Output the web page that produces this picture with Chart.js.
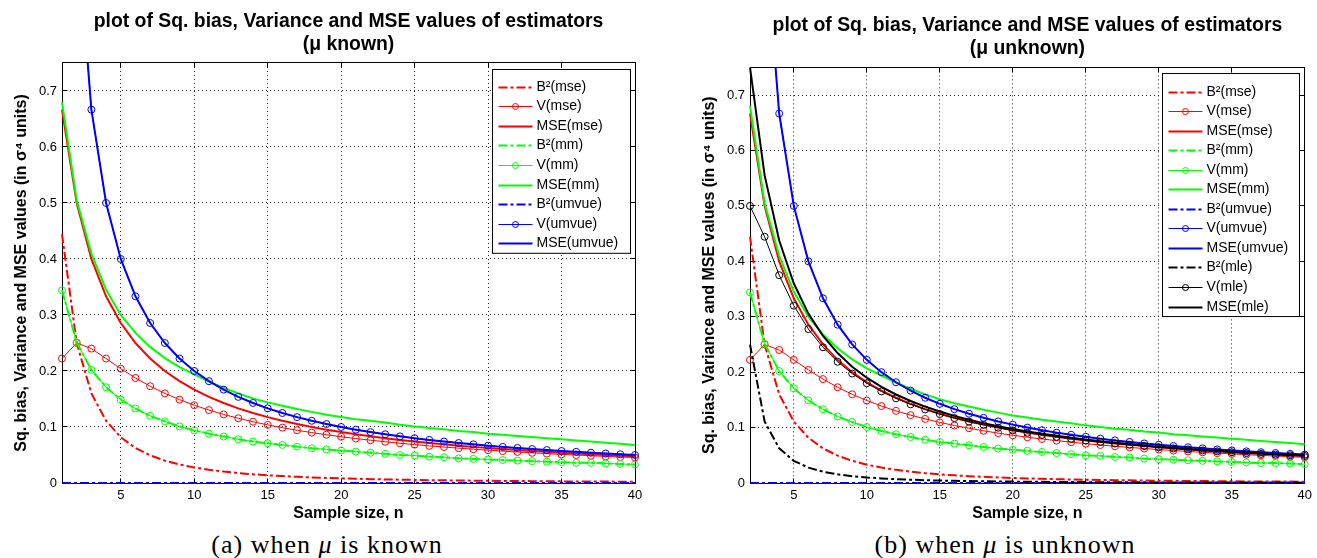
<!DOCTYPE html>
<html><head><meta charset="utf-8">
<script src="https://cdn.jsdelivr.net/npm/chart.js@4.4.0/dist/chart.umd.min.js"></script>
<style>
html,body{margin:0;padding:0;background:#fff;}
body{width:1317px;height:558px;position:relative;overflow:hidden;}
canvas{position:absolute;top:0;}
#c1{left:0;} #c2{left:658px;}
.cap{position:absolute;font-family:'Liberation Serif',serif;font-size:26px;letter-spacing:1px;color:#000;white-space:nowrap;transform:translateX(-50%);top:530px;line-height:30px;}
</style></head><body>
<canvas id="c1" width="658" height="530"></canvas>
<canvas id="c2" width="659" height="530"></canvas>
<div class="cap" style="left:327px">(a) when <i>μ</i> is known</div>
<div class="cap" style="left:1005px">(b) when <i>μ</i> is unknown</div>
<script>
// ---------- data ----------
const nKnown = [1,2,3,4,5,6,7,8,9,10,11,12,13,14,15,16,17,18,19,20,21,22,23,24,25,26,27,28,29,30,31,32,33,34,35,36,37,38,39,40];
const nUnknown = [2,3,4,5,6,7,8,9,10,11,12,13,14,15,16,17,18,19,20,21,22,23,24,25,26,27,28,29,30,31,32,33,34,35,36,37,38,39,40];
const xTicks = [5,10,15,20,25,30,35,40];
const yTicks = [0,0.1,0.2,0.3,0.4,0.5,0.6,0.7];
const yTickLabels = ['0','0.1','0.2','0.3','0.4','0.5','0.6','0.7'];

// (a) mu known
const b2MseK = [0.4444,0.25,0.16,0.1111,0.0816,0.0625,0.0494,0.04,0.0331,0.0278,0.0237,0.0204,0.0178,0.0156,0.0138,0.0123,0.0111,0.01,0.0091,0.0083,0.0076,0.0069,0.0064,0.0059,0.0055,0.0051,0.0048,0.0044,0.0042,0.0039,0.0037,0.0035,0.0033,0.0031,0.0029,0.0028,0.0026,0.0025,0.0024,0.0023];
const vMseK = [0.2222,0.25,0.24,0.2222,0.2041,0.1875,0.1728,0.16,0.1488,0.1389,0.1302,0.1224,0.1156,0.1094,0.1038,0.0988,0.0942,0.09,0.0862,0.0826,0.0794,0.0764,0.0736,0.071,0.0686,0.0663,0.0642,0.0622,0.0604,0.0586,0.0569,0.0554,0.0539,0.0525,0.0511,0.0499,0.0487,0.0475,0.0464,0.0454];
const mseMseK = [0.6667,0.5,0.4,0.3333,0.2857,0.25,0.2222,0.2,0.1818,0.1667,0.1538,0.1429,0.1333,0.125,0.1176,0.1111,0.1053,0.1,0.0952,0.0909,0.087,0.0833,0.08,0.0769,0.0741,0.0714,0.069,0.0667,0.0645,0.0625,0.0606,0.0588,0.0571,0.0556,0.0541,0.0526,0.0513,0.05,0.0488,0.0476];
const b2MmK = [0.344,0.251,0.202,0.171,0.149,0.133,0.12,0.11,0.101,0.094,0.088,0.083,0.078,0.074,0.071,0.068,0.065,0.062,0.06,0.058,0.056,0.054,0.052,0.05,0.049,0.047,0.046,0.044,0.043,0.042,0.041,0.04,0.039,0.038,0.037,0.036,0.036,0.035,0.034,0.033];
const vMmK = [0.344,0.251,0.202,0.171,0.149,0.133,0.12,0.11,0.101,0.094,0.088,0.083,0.078,0.074,0.071,0.068,0.065,0.062,0.06,0.058,0.056,0.054,0.052,0.05,0.049,0.047,0.046,0.044,0.043,0.042,0.041,0.04,0.039,0.038,0.037,0.036,0.036,0.035,0.034,0.033];
const mseMmK = [0.68,0.505,0.41,0.345,0.3,0.268,0.243,0.223,0.207,0.194,0.181,0.17,0.16,0.151,0.144,0.138,0.132,0.127,0.122,0.118,0.114,0.111,0.108,0.104,0.101,0.098,0.096,0.093,0.091,0.088,0.086,0.084,0.082,0.08,0.078,0.076,0.074,0.072,0.07,0.068];
const b2UmvueK = [0,0,0,0,0,0,0,0,0,0,0,0,0,0,0,0,0,0,0,0,0,0,0,0,0,0,0,0,0,0,0,0,0,0,0,0,0,0,0,0];
const vUmvueK = [2,1,0.6667,0.5,0.4,0.3333,0.2857,0.25,0.2222,0.2,0.1818,0.1667,0.1538,0.1429,0.1333,0.125,0.1176,0.1111,0.1053,0.1,0.0952,0.0909,0.087,0.0833,0.08,0.0769,0.0741,0.0714,0.069,0.0667,0.0645,0.0625,0.0606,0.0588,0.0571,0.0556,0.0541,0.0526,0.0513,0.05];
const mseUmvueK = [2,1,0.6667,0.5,0.4,0.3333,0.2857,0.25,0.2222,0.2,0.1818,0.1667,0.1538,0.1429,0.1333,0.125,0.1176,0.1111,0.1053,0.1,0.0952,0.0909,0.087,0.0833,0.08,0.0769,0.0741,0.0714,0.069,0.0667,0.0645,0.0625,0.0606,0.0588,0.0571,0.0556,0.0541,0.0526,0.0513,0.05];

// (b) mu unknown
const b2MseU = [0.4444,0.25,0.16,0.1111,0.0816,0.0625,0.0494,0.04,0.0331,0.0278,0.0237,0.0204,0.0178,0.0156,0.0138,0.0123,0.0111,0.01,0.0091,0.0083,0.0076,0.0069,0.0064,0.0059,0.0055,0.0051,0.0048,0.0044,0.0042,0.0039,0.0037,0.0035,0.0033,0.0031,0.0029,0.0028,0.0026,0.0025,0.0024];
const vMseU = [0.2222,0.25,0.24,0.2222,0.2041,0.1875,0.1728,0.16,0.1488,0.1389,0.1302,0.1224,0.1156,0.1094,0.1038,0.0988,0.0942,0.09,0.0862,0.0826,0.0794,0.0764,0.0736,0.071,0.0686,0.0663,0.0642,0.0622,0.0604,0.0586,0.0569,0.0554,0.0539,0.0525,0.0511,0.0499,0.0487,0.0475,0.0464];
const mseMseU = [0.6667,0.5,0.4,0.3333,0.2857,0.25,0.2222,0.2,0.1818,0.1667,0.1538,0.1429,0.1333,0.125,0.1176,0.1111,0.1053,0.1,0.0952,0.0909,0.087,0.0833,0.08,0.0769,0.0741,0.0714,0.069,0.0667,0.0645,0.0625,0.0606,0.0588,0.0571,0.0556,0.0541,0.0526,0.0513,0.05,0.0488];
const b2MmU = [0.344,0.251,0.202,0.171,0.149,0.133,0.12,0.11,0.101,0.094,0.088,0.083,0.078,0.074,0.071,0.068,0.065,0.062,0.06,0.058,0.056,0.054,0.052,0.05,0.049,0.047,0.046,0.044,0.043,0.042,0.041,0.04,0.039,0.038,0.037,0.036,0.036,0.035,0.034];
const vMmU = [0.344,0.251,0.202,0.171,0.149,0.133,0.12,0.11,0.101,0.094,0.088,0.083,0.078,0.074,0.071,0.068,0.065,0.062,0.06,0.058,0.056,0.054,0.052,0.05,0.049,0.047,0.046,0.044,0.043,0.042,0.041,0.04,0.039,0.038,0.037,0.036,0.036,0.035,0.034];
const mseMmU = [0.68,0.505,0.41,0.345,0.3,0.268,0.243,0.223,0.207,0.194,0.181,0.17,0.16,0.151,0.144,0.138,0.132,0.127,0.122,0.118,0.114,0.111,0.108,0.104,0.101,0.098,0.096,0.093,0.091,0.088,0.086,0.084,0.082,0.08,0.078,0.076,0.074,0.072,0.07];
const b2UmvueU = [0,0,0,0,0,0,0,0,0,0,0,0,0,0,0,0,0,0,0,0,0,0,0,0,0,0,0,0,0,0,0,0,0,0,0,0,0,0,0];
const vUmvueU = [2,1,0.6667,0.5,0.4,0.3333,0.2857,0.25,0.2222,0.2,0.1818,0.1667,0.1538,0.1429,0.1333,0.125,0.1176,0.1111,0.1053,0.1,0.0952,0.0909,0.087,0.0833,0.08,0.0769,0.0741,0.0714,0.069,0.0667,0.0645,0.0625,0.0606,0.0588,0.0571,0.0556,0.0541,0.0526,0.0513];
const mseUmvueU = [2,1,0.6667,0.5,0.4,0.3333,0.2857,0.25,0.2222,0.2,0.1818,0.1667,0.1538,0.1429,0.1333,0.125,0.1176,0.1111,0.1053,0.1,0.0952,0.0909,0.087,0.0833,0.08,0.0769,0.0741,0.0714,0.069,0.0667,0.0645,0.0625,0.0606,0.0588,0.0571,0.0556,0.0541,0.0526,0.0513];
const b2MleU = [0.25,0.1111,0.0625,0.04,0.0278,0.0204,0.0156,0.0123,0.01,0.0083,0.0069,0.0059,0.0051,0.0044,0.0039,0.0035,0.0031,0.0028,0.0025,0.0023,0.0021,0.0019,0.0017,0.0016,0.0015,0.0014,0.0013,0.0012,0.0011,0.001,0.001,0.0009,0.0009,0.0008,0.0008,0.0007,0.0007,0.0007,0.0006];
const vMleU = [0.5,0.4444,0.375,0.32,0.2778,0.2449,0.2188,0.1975,0.18,0.1653,0.1528,0.142,0.1327,0.1244,0.1172,0.1107,0.1049,0.0997,0.095,0.0907,0.0868,0.0832,0.0799,0.0768,0.074,0.0713,0.0689,0.0666,0.0644,0.0624,0.0605,0.0588,0.0571,0.0555,0.054,0.0526,0.0512,0.05,0.0488];
const mseMleU = [0.75,0.5556,0.4375,0.36,0.3056,0.2653,0.2344,0.2099,0.19,0.1736,0.1597,0.1479,0.1378,0.1289,0.1211,0.1142,0.108,0.1025,0.0975,0.093,0.0888,0.0851,0.0816,0.0784,0.0754,0.0727,0.0702,0.0678,0.0656,0.0635,0.0615,0.0597,0.058,0.0563,0.0548,0.0533,0.052,0.0506,0.0494];

// ---------- styling / build ----------
const FONT = '"Liberation Sans", Arial, Helvetica, sans-serif';
const RED = '#ff0000', GREEN = '#00ff00', BLUE = '#0000ff', BLACK = '#000000';
Chart.defaults.font.family = FONT;
Chart.defaults.color = '#000';

function ds(label, xs, ys, color, kind) {
  const d = {label, data: xs.map((x, i) => ({x, y: ys[i]})), borderColor: color,
    backgroundColor: 'rgba(0,0,0,0)', tension: 0, fill: false,
    clip: {left: 6, right: 6, top: 0, bottom: 6}};
  if (kind === 'b2') Object.assign(d, {borderWidth: 2, borderDash: [9, 3, 3, 3], pointRadius: 0});
  if (kind === 'v') Object.assign(d, {borderWidth: 1, pointRadius: 3.5, pointBorderWidth: 1,
    pointBorderColor: color, pointBackgroundColor: 'rgba(0,0,0,0)', pointStyle: 'circle'});
  if (kind === 'mse') Object.assign(d, {borderWidth: 2, pointRadius: 0});
  return d;
}

const frame = {
  id: 'frame',
  beforeDatasetsDraw(chart) {
    const {ctx, chartArea: a, scales} = chart;
    const al = v => Math.round(v - 0.5) + 0.5;
    const L = al(a.left), R = al(a.right), T = al(a.top), B = al(a.bottom);
    ctx.save();
    ctx.strokeStyle = '#000'; ctx.lineWidth = 1; ctx.setLineDash([]);
    ctx.strokeRect(L, T, R - L, B - T);
    ctx.beginPath();
    scales.x.ticks.forEach(t => {
      const x = al(scales.x.getPixelForValue(t.value));
      ctx.moveTo(x, B); ctx.lineTo(x, B - 5);
      ctx.moveTo(x, T); ctx.lineTo(x, T + 5);
    });
    scales.y.ticks.forEach(t => {
      const y = al(scales.y.getPixelForValue(t.value));
      ctx.moveTo(L, y); ctx.lineTo(L + 5, y);
      ctx.moveTo(R, y); ctx.lineTo(R - 5, y);
    });
    ctx.stroke();
    ctx.restore();
  }
};

const legendBox = {
  id: 'legendBox',
  afterDraw(chart, args, o) {
    const {ctx, chartArea: a} = chart;
    const dss = chart.data.datasets;
    const w = o.width;
    const h = o.firstOff + (dss.length - 1) * o.rowH + o.lastOff;
    const x0 = Math.round(a.right - o.right - w) + 0.5;
    const y0 = Math.round(a.top + o.top) + 0.5;
    ctx.save();
    ctx.fillStyle = '#fff'; ctx.fillRect(x0, y0, w, h);
    ctx.strokeStyle = '#000'; ctx.lineWidth = 1; ctx.setLineDash([]);
    ctx.strokeRect(x0, y0, w, h);
    ctx.font = '14px ' + FONT; ctx.textBaseline = 'middle'; ctx.textAlign = 'left';
    dss.forEach((d, i) => {
      const y = Math.round(y0 + o.firstOff + i * o.rowH) + 0.5;
      ctx.beginPath();
      ctx.setLineDash(d.borderDash || []);
      ctx.lineWidth = d.borderWidth; ctx.strokeStyle = d.borderColor;
      ctx.moveTo(x0 + 6, y); ctx.lineTo(x0 + 40, y); ctx.stroke();
      ctx.setLineDash([]);
      if (d.pointRadius > 0) {
        ctx.beginPath(); ctx.lineWidth = 1;
        ctx.arc(x0 + 23, y, 3, 0, Math.PI * 2); ctx.stroke();
      }
      ctx.fillStyle = '#000';
      ctx.fillText(d.label, x0 + 44, y);
    });
    ctx.restore();
  }
};

function makeChart(id, xmin, datasets, titleLines, padLeft, padRight, titleTop, legendOpts) {
  const N = datasets.length;
  datasets.forEach((d, i) => { d.order = N - i; });
  return new Chart(document.getElementById(id), {
    type: 'line',
    data: {datasets},
    options: {
      responsive: false, animation: false, devicePixelRatio: 1,
      layout: {padding: {left: padLeft, right: padRight, top: 0, bottom: 0}},
      plugins: {
        legend: {display: false}, tooltip: {enabled: false},
        title: {display: true, fullSize: false, text: titleLines, color: '#000',
          font: {family: FONT, size: 19.4, weight: 'bold', lineHeight: 1.2},
          padding: {top: titleTop, bottom: 6.8}},
        legendBox: legendOpts
      },
      scales: {
        x: {type: 'linear', min: xmin, max: 40,
          afterBuildTicks: s => { s.ticks = xTicks.map(v => ({value: v})); },
          afterFit: s => { s.height = 47; },
          ticks: {font: {family: FONT, size: 13}, color: '#000', padding: 5, maxRotation: 0, autoSkip: false,
            callback: v => String(v)},
          grid: {color: '#222', lineWidth: 1, drawTicks: false},
          border: {display: false, dash: [1, 3]},
          title: {display: true, text: 'Sample size, n', color: '#000',
            font: {family: FONT, size: 16, weight: 'bold', lineHeight: 1.2}, padding: {top: 0, bottom: 6.4}}
        },
        y: {type: 'linear', min: 0, max: 0.75,
          afterBuildTicks: s => { s.ticks = yTicks.map(v => ({value: v})); },
          afterFit: s => { s.width = 62; },
          ticks: {font: {family: FONT, size: 13}, color: '#000', padding: 5, autoSkip: false,
            callback: (v, i) => yTickLabels[i]},
          grid: {color: '#222', lineWidth: 1, drawTicks: false},
          border: {display: false, dash: [1, 3]},
          title: {display: true, text: 'Sq. bias, Variance and MSE values (in σ⁴ units)', color: '#000',
            font: {family: FONT, size: 16, weight: 'bold', lineHeight: 1.2}, padding: {top: 12.4, bottom: 0}}
        }
      }
    },
    plugins: [frame, legendBox]
  });
}

makeChart('c1', 1, [
  ds('B²(mse)', nKnown, b2MseK, RED, 'b2'),
  ds('V(mse)', nKnown, vMseK, RED, 'v'),
  ds('MSE(mse)', nKnown, mseMseK, RED, 'mse'),
  ds('B²(mm)', nKnown, b2MmK, GREEN, 'b2'),
  ds('V(mm)', nKnown, vMmK, GREEN, 'v'),
  ds('MSE(mm)', nKnown, mseMmK, GREEN, 'mse'),
  ds('B²(umvue)', nKnown, b2UmvueK, BLUE, 'b2'),
  ds('V(umvue)', nKnown, vUmvueK, BLUE, 'v'),
  ds('MSE(umvue)', nKnown, mseUmvueK, BLUE, 'mse')
], ['plot of Sq. bias, Variance and MSE values of estimators', '(μ known)'], 0, 23, 9.6,
  {width: 138, right: 5, top: 6, rowH: 19.6, firstOff: 17, lastOff: 10});

makeChart('c2', 2, [
  ds('B²(mse)', nUnknown, b2MseU, RED, 'b2'),
  ds('V(mse)', nUnknown, vMseU, RED, 'v'),
  ds('MSE(mse)', nUnknown, mseMseU, RED, 'mse'),
  ds('B²(mm)', nUnknown, b2MmU, GREEN, 'b2'),
  ds('V(mm)', nUnknown, vMmU, GREEN, 'v'),
  ds('MSE(mm)', nUnknown, mseMmU, GREEN, 'mse'),
  ds('B²(umvue)', nUnknown, b2UmvueU, BLUE, 'b2'),
  ds('V(umvue)', nUnknown, vUmvueU, BLUE, 'v'),
  ds('MSE(umvue)', nUnknown, mseUmvueU, BLUE, 'mse'),
  ds('B²(mle)', nUnknown, b2MleU, BLACK, 'b2'),
  ds('V(mle)', nUnknown, vMleU, BLACK, 'v'),
  ds('MSE(mle)', nUnknown, mseMleU, BLACK, 'mse')
], ['plot of Sq. bias, Variance and MSE values of estimators', '(μ unknown)'], 30, 7, 14,
  {width: 137, right: 6, top: 6, rowH: 19.55, firstOff: 18, lastOff: 10});
</script>
</body></html>
